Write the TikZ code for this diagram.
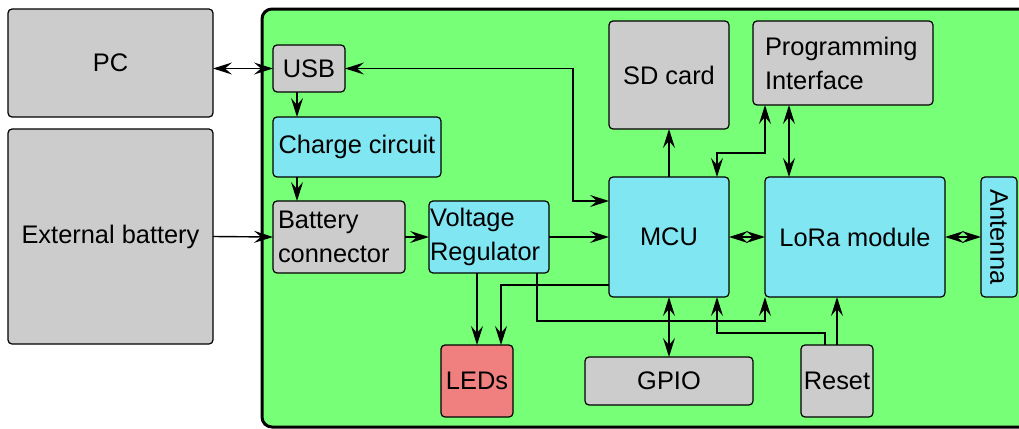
\documentclass[tikz,border=0pt]{standalone}
\usepackage{fontspec}
\setmainfont{Liberation Sans}
\usetikzlibrary{arrows.meta,positioning,calc}

\definecolor{boardgreen}{HTML}{77FF77}
\definecolor{partgray}{HTML}{CCCCCC}
\definecolor{partcyan}{HTML}{80E6F2}
\definecolor{ledred}{HTML}{F08080}

\tikzset{
  part/.style={draw,rounded corners=2pt,line width=0.6pt,inner sep=0pt,outer sep=0pt,
    font=\fontsize{12.7}{17}\selectfont},
  graypart/.style={part,fill=partgray},
  cyanpart/.style={part,fill=partcyan},
  redpart/.style={part,fill=ledred},
  spot/.style n args={4}{at={(#1/2+#3/2,#2/2+#4/2)},
    minimum width={(#3-#1)*0.5pt},minimum height={(#4-#2)*0.5pt}},
  wire/.style={line width=0.7pt},
}

\begin{document}
\begin{tikzpicture}[x=0.5pt,y=-0.5pt,>={Stealth[length=9.5pt,width=6pt,inset=3.5pt]}]
\useasboundingbox (0,0) rectangle (1019,429);
\clip (0,0) rectangle (1019,429);
% board
\draw[line width=1.5pt,rounded corners=5pt,fill=boardgreen] (262,9) rectangle (1060,427);
% outside parts
\node[graypart,spot={8}{9}{213}{117}] (pc) {PC};
\node[graypart,spot={8}{129}{213}{344}] (ext) {External battery};
% power side
\node[graypart,spot={273}{45}{345}{92}] (usb) {USB};
\node[cyanpart,spot={273}{117}{441}{177}] (chg) {Charge circuit};
\node[graypart,spot={273}{201}{405}{273},text width=61pt,align=left] (bat) {Battery\\connector};
\node[cyanpart,spot={429}{201}{549}{273},text width=59pt,align=left] (vr) {Voltage\\Regulator};
\node[redpart,spot={441}{345}{513}{417}] (leds) {LEDs};
% logic side
\node[cyanpart,spot={609}{177}{729}{297}] (mcu) {MCU};
\node[cyanpart,spot={765}{177}{945}{297}] (lora) {LoRa module};
\node[cyanpart,spot={981}{177}{1017}{297}] (ant) {\rotatebox{-90}{Antenna}};
\node[graypart,spot={609}{21}{729}{129}] (sd) {SD card};
\node[graypart,spot={753}{21}{933}{105},text width=78pt,align=left] (prog) {Programming\\Interface};
\node[graypart,spot={585}{357}{753}{405}] (gpio) {GPIO};
\node[graypart,spot={801}{345}{873}{417}] (reset) {Reset};

% connections
\draw[wire,<->] (usb.west -| pc.east) -- (usb.west);
\draw[wire,->] ([xshift=12pt]usb.south west) -- ([xshift=12pt]chg.north west);
\draw[wire,->] ([xshift=12pt]chg.south west) -- ([xshift=12pt]bat.north west);
\draw[wire,->] (ext.east) -- (bat.west);
\draw[wire,->] (bat.east) -- (vr.west);
\draw[wire,->] (vr.east) -- (mcu.west);
\draw[wire,<->] ([yshift=18pt]mcu.west) -- ++(-36,0) |- (usb.east);
\draw[wire,<->] (mcu.east) -- (lora.west);
\draw[wire,<->] (lora.east) -- (ant.west);
\draw[wire,->] (mcu.north) -- (sd.south);
\draw[wire,<->] ([xshift=24pt]mcu.north) -- ++(0,-24) -| ([xshift=6pt]prog.south west);
\draw[wire,<->] ([xshift=12pt]lora.north west) -- ([xshift=18pt]prog.south west);
\draw[wire,->] ([xshift=24pt]vr.south west) -- (leds.north);
\draw[wire,->] ([yshift=6pt]mcu.south west) -| ([xshift=-6pt]leds.north east);
\draw[wire,->] ([xshift=-6pt]vr.south east) -- ++(0,48) -| (lora.south west);
\draw[wire,<->] (mcu.south) -- (gpio.north);
\draw[wire,->] ([xshift=-6pt]reset.north) -- ++(0,-12) -| ([xshift=24pt]mcu.south);
\draw[wire,->] (reset.north) -- (reset.north |- lora.south);
\end{tikzpicture}
\end{document}
